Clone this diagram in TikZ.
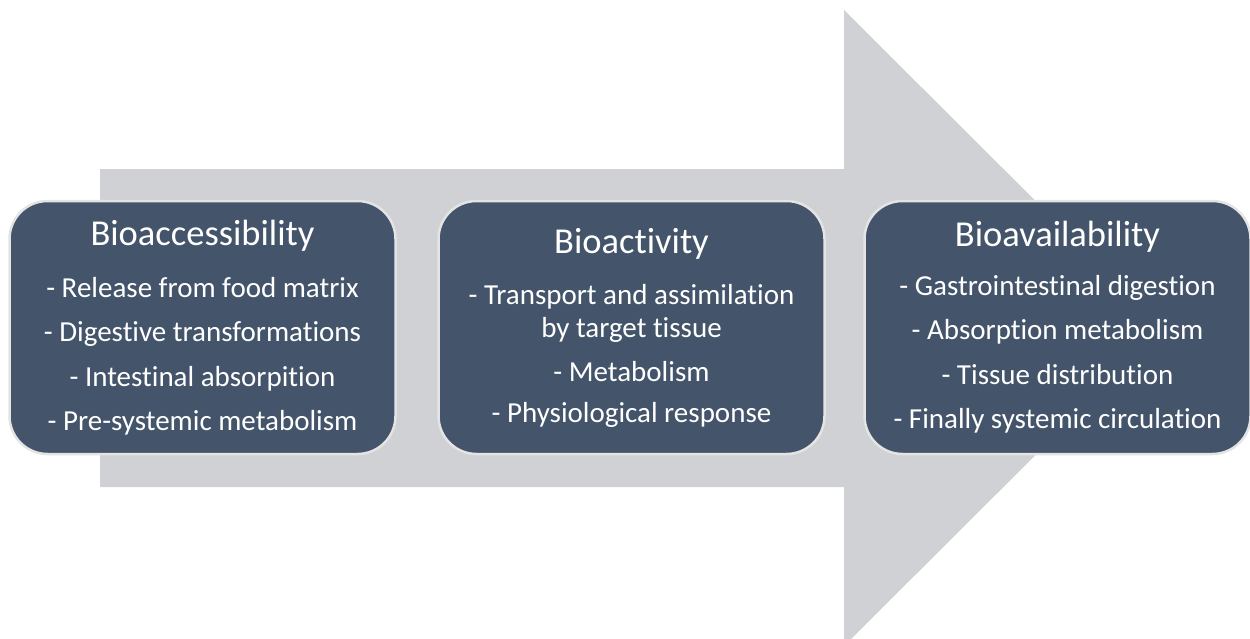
\documentclass[tikz,border=0pt]{standalone}
\usepackage{fontspec}
\setmainfont{Carlito}[Ligatures=NoCommon]
\definecolor{arrowgray}{HTML}{D0D1D5}
\definecolor{slate}{HTML}{44546A}
\definecolor{rim}{HTML}{E4E4E4}
\begin{document}
\begin{tikzpicture}[x=1pt,y=-1pt,
  stage/.style={draw=rim, line width=2.5pt, fill=slate, rounded corners=38pt,
    minimum width=386pt, minimum height=253pt, text=white, align=center,
    font=\fontsize{29}{44.5}\selectfont, inner sep=0pt},
  ttl/.style={}]
\useasboundingbox (0,0) rectangle (1250,638);
\fill[arrowgray] (100,169) -- (844,169) -- (844,10) -- (1163,328) -- (844,646)
  -- (844,487) -- (100,487) -- cycle;
\node[stage] (b1) at (202.5,327.5) {{\fontsize{36.5}{36.5}\selectfont Bioaccessibility}\\[7.5pt]
  - Release from food matrix\\
  - Digestive transformations\\
  - Intestinal absorpition\\
  - Pre-systemic metabolism};
\node[stage] (b2) at (631.5,327.5) {{\fontsize{36.5}{36.5}\selectfont Bioactivity}\\[7pt]
  - Transport and assimilation\\[-12pt]
  by target tissue\\
  - Metabolism\\[-4pt]
  - Physiological response};
\node[stage] (b3) at (1057.5,327.5) {{\fontsize{36.5}{36.5}\selectfont Bioavailability}\\[4pt]
  - Gastrointestinal digestion\\
  - Absorption metabolism\\
  - Tissue distribution\\
  - Finally systemic circulation};
\end{tikzpicture}
\end{document}
